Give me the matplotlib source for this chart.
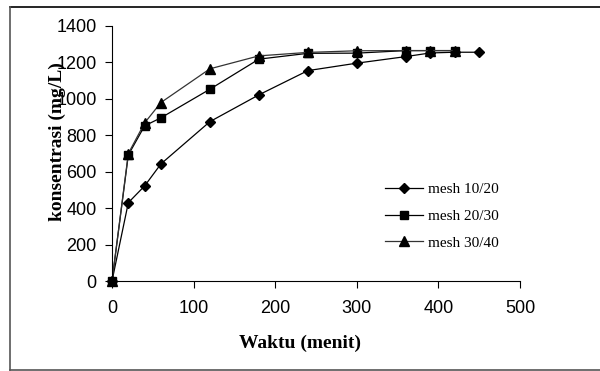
import matplotlib
matplotlib.use("Agg")
import matplotlib.pyplot as plt
from matplotlib.lines import Line2D

# data
t_10_20 = [0, 20, 40, 60, 120, 180, 240, 300, 360, 390, 420, 450]
c_10_20 = [0, 430, 522, 643, 875, 1022, 1155, 1196, 1232, 1252, 1256, 1256]

t_20_30 = [0, 20, 40, 60, 120, 180, 240, 300, 360, 390, 420]
c_20_30 = [0, 692, 852, 896, 1053, 1218, 1250, 1251, 1265, 1265, 1265]

t_30_40 = [0, 20, 40, 60, 120, 180, 240, 300, 360, 390, 420]
c_30_40 = [0, 700, 868, 980, 1165, 1236, 1255, 1264, 1265, 1265, 1265]

x_ticks = [0, 100, 200, 300, 400, 500]
y_ticks = [0, 200, 400, 600, 800, 1000, 1200, 1400]

W, H = 600, 371
fig = plt.figure(figsize=(6, 3.71), dpi=100)
ax = fig.add_axes([112 / W, 1 - 281 / H, 408 / W, 255 / H])

# outer frame (open on the right, like the source)
fig.add_artist(Line2D([10 / W, 1.0], [1 - 7 / H] * 2, color="black", lw=1.2, transform=fig.transFigure))
fig.add_artist(Line2D([10 / W, 10 / W], [1 - 7 / H, 1 - 370 / H], color="#555555", lw=1.2, transform=fig.transFigure))
fig.add_artist(Line2D([10 / W, 1.0], [1 - 370 / H] * 2, color="#555555", lw=1.2, transform=fig.transFigure))

ax.plot(t_10_20, c_10_20, color="black", lw=0.9, marker="D", ms=5, label="mesh 10/20", clip_on=False)
ax.plot(t_20_30, c_20_30, color="black", lw=0.9, marker="s", ms=6, label="mesh 20/30", clip_on=False)
ax.plot(t_30_40, c_30_40, color="#333333", lw=0.9, marker="^", ms=6.5, mfc="black", mec="black",
        label="mesh 30/40", clip_on=False)

ax.set_xlim(0, 500)
ax.set_ylim(0, 1400)
ax.set_xticks(x_ticks)
ax.set_yticks(y_ticks)
ax.spines["top"].set_visible(False)
ax.spines["right"].set_visible(False)
ax.tick_params(direction="out", length=5, width=0.8, labelsize=13)
ax.tick_params(axis="x", pad=9)
ax.tick_params(axis="y", pad=6)
for lab in ax.get_xticklabels() + ax.get_yticklabels():
    lab.set_family("Liberation Sans")

fig.text(300 / W, 1 - 343 / H, "Waktu (menit)", family="Liberation Serif", fontweight="bold",
         fontsize=14, ha="center", va="center")
fig.text(57 / W, 1 - 142 / H, "konsentrasi (mg/L)", family="Liberation Serif", fontweight="bold",
         fontsize=14, ha="center", va="center", rotation=90)

ax.legend(loc="upper left", bbox_to_anchor=(0.635, 0.44), frameon=False,
          prop={"family": "Liberation Serif", "size": 11}, handlelength=2.5,
          labelspacing=0.85, handletextpad=0.3)

fig.savefig("out.png", dpi=100)
